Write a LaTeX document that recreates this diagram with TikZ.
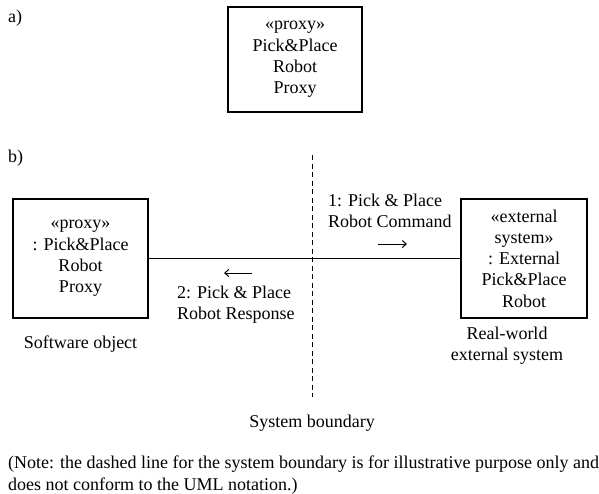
\documentclass[tikz,border=0pt]{standalone}
\usepackage{fontspec}
\setmainfont{Liberation Serif}
\usetikzlibrary{arrows.meta}
\begin{document}
\begin{tikzpicture}[x=1pt,y=-1pt,
  every node/.style={font=\fontsize{18}{21.3}\selectfont, inner sep=0pt},
  objbox/.style={draw, line width=1.3pt, align=center},
  lbl/.style={align=left, anchor=west},
  msgarrow/.style={-{Straight Barb[length=4pt,width=7pt]}, line width=1pt},
  boundary/.style={line width=0.9pt, dash pattern=on 5pt off 3.5pt}]
\useasboundingbox (0,0) rectangle (599,493);
\node[anchor=west] (la) at (8,18) {a)};
\node[objbox, minimum width=134pt, minimum height=105pt] (proxyA) at (295,59.5)
  {«proxy»\\Pick\&Place\\Robot\\Proxy};
\node[anchor=west] (lb) at (8,158) {b)};
\coordinate (bt) at (312,155);
\coordinate (bb) at (312,397);
\draw[boundary] (bt) -- (bb);
\node[objbox, minimum width=135pt, minimum height=119pt] (sw) at (80.5,258.5)
  {«proxy»\\: Pick\&Place\\Robot\\Proxy};
\node[objbox, minimum width=126pt, minimum height=119pt] (ext) at (524,258.5)
  {«external\\system»\\: External\\Pick\&Place\\Robot};
\draw[line width=1.1pt] (sw.east) -- (ext.west);
\node[lbl] (m1) at (328,210.5) {1: Pick \& Place\\Robot Command};
\coordinate (a1s) at (378,244);
\coordinate (a1e) at (407,244);
\draw[msgarrow] (a1s) -- (a1e);
\node[lbl] (m2) at (177,305) {2: Pick \& Place\\Robot Response};
\coordinate (a2s) at (252,273);
\coordinate (a2e) at (224,273);
\draw[msgarrow] (a2s) -- (a2e);
\node (swl) at (80.5,344) {Software object};
\node[align=center] (extl) at (507,346) {Real-world\\external system};
\node (sbl) at (312,423) {System boundary};
\node[align=left, anchor=west] (note) at (8,475)
  {(Note: the dashed line for the system boundary is for illustrative purpose only and\\does not conform to the UML notation.)};
\end{tikzpicture}
\end{document}
